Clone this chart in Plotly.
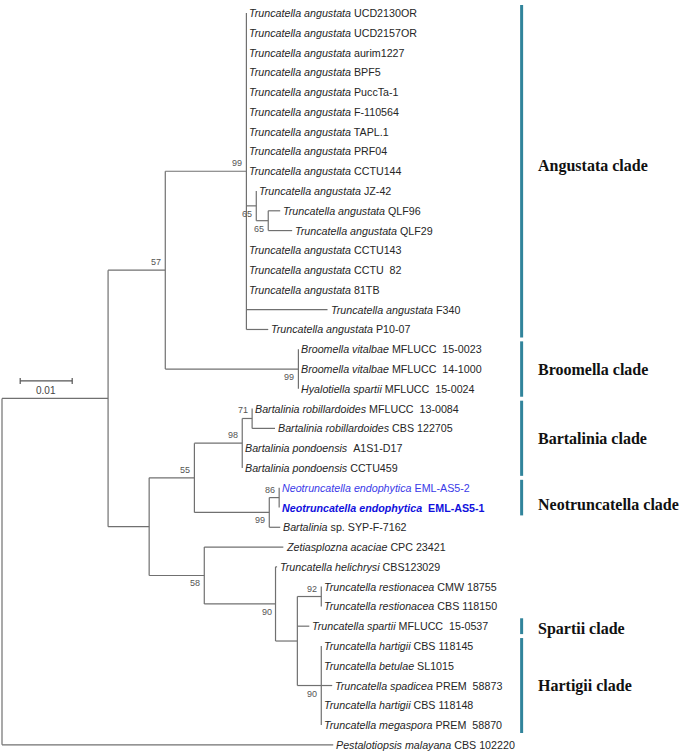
import plotly.graph_objects as go

NB = "\u00a0"

# internal nodes of the tree: name, parent, branch length, bootstrap support
node_names = ["root", "n1", "n57", "n99a", "n65a", "n65b", "n99b", "n2", "n55", "n98",
              "n71", "n99c", "n86", "n58", "n90a", "n3", "n92", "n90b"]
node_parents = [None, "root", "n1", "n57", "n99a", "n65a", "n57", "n1", "n2", "n55",
                "n98", "n55", "n99c", "n2", "n58", "n90a", "n3", "n3"]
node_lengths = [0.0, 0.0204, 0.0110, 0.0156, 0.0019, 0.0023, 0.0256, 0.0079, 0.0087, 0.0092,
                0.0019, 0.0144, 0.0019, 0.0106, 0.0137, 0.0042, 0.0046, 0.0046]
node_support = ["", "", "57", "99", "65", "65", "99", "", "55", "98",
                "71", "99", "86", "58", "90", "", "92", "90"]

# leaves, top to bottom
leaf_species = ["Truncatella angustata"] * 17 + [
    "Broomella vitalbae", "Broomella vitalbae", "Hyalotiella spartii",
    "Bartalinia robillardoides", "Bartalinia robillardoides",
    "Bartalinia pondoensis", "Bartalinia pondoensis",
    "Neotruncatella endophytica", "Neotruncatella" + NB + "endophytica",
    "Bartalinia", "Zetiasplozna acaciae", "Truncatella helichrysi",
    "Truncatella restionacea", "Truncatella restionacea", "Truncatella spartii",
    "Truncatella hartigii", "Truncatella betulae", "Truncatella spadicea",
    "Truncatella hartigii", "Truncatella megaspora", "Pestalotiopsis malayana"]
leaf_strains = ["UCD2130OR", "UCD2157OR", "aurim1227", "BPF5", "PuccTa-1", "F-110564",
                "TAPL.1", "PRF04", "CCTU144", "JZ-42", "QLF96", "QLF29", "CCTU143",
                "CCTU" + NB + NB + "82", "81TB", "F340", "P10-07",
                "MFLUCC" + NB + NB + "15-0023", "MFLUCC" + NB + NB + "14-1000", "MFLUCC" + NB + NB + "15-0024",
                "MFLUCC" + NB + NB + "13-0084", "CBS 122705", NB + "A1S1-D17", "CCTU459",
                "EML-AS5-2", NB + "EML-AS5-1", "sp. SYP-F-7162", "CPC 23421", "CBS123029",
                "CMW 18755", "CBS 118150", "MFLUCC" + NB + NB + "15-0537", "CBS 118145", "SL1015",
                "PREM" + NB + NB + "58873", "CBS 118148", "PREM" + NB + NB + "58870", "CBS 102220"]
leaf_parents = ["n99a"] * 9 + ["n65a", "n65b", "n65b"] + ["n99a"] * 5 + ["n99b"] * 3 + \
               ["n71", "n71", "n98", "n98", "n86", "n86", "n99c", "n58", "n90a",
                "n92", "n92", "n3", "n90b", "n90b", "n90b", "n90b", "n90b", "root"]
leaf_lengths = [0] * 9 + [0, 0.0023, 0.0046, 0, 0, 0, 0.0156, 0.0042, 0, 0, 0,
                          0, 0.0044, 0, 0, 0, 0, 0.0021, 0.0152, 0.0003,
                          0, 0, 0.0023, 0, 0, 0.0021, 0, 0, 0.0637]

# clades: label, first leaf, last leaf
clade_names = ["Angustata clade", "Broomella clade", "Bartalinia clade",
               "Neotruncatella clade", "Spartii clade", "Hartigii clade"]
clade_first = [0, 17, 20, 24, 31, 32]
clade_last = [16, 19, 23, 25, 31, 36]

scale_length = 0.01

# ---- build coordinates ----
parent = dict(zip(node_names, node_parents))
length = dict(zip(node_names, node_lengths))
for i in range(len(leaf_species)):
    parent["L%d" % i] = leaf_parents[i]
    length["L%d" % i] = leaf_lengths[i]

xs = {}
def getx(n):
    if n not in xs:
        p = parent[n]
        xs[n] = 0.0 if p is None else getx(p) + length[n]
    return xs[n]

children = {n: [] for n in node_names}
for n, p in parent.items():
    if p is not None:
        children[p].append(n)

ys = {"L%d" % i: float(i) for i in range(len(leaf_species))}
def gety(n):
    if n not in ys:
        cy = [gety(c) for c in children[n]]
        ys[n] = (min(cy) + max(cy)) / 2
    return ys[n]

lx, ly = [], []
for n in parent:
    x, y = getx(n), gety(n)
    if parent[n] is not None:
        lx += [getx(parent[n]), x, None]
        ly += [y, y, None]
    if n in children:
        cy = [gety(c) for c in children[n]]
        lx += [x, x, None]
        ly += [min(cy), max(cy), None]

fig = go.Figure()
fig.add_trace(go.Scatter(x=lx, y=ly, mode="lines", line=dict(color="#707070", width=1.2),
                         hoverinfo="skip", showlegend=False))

ann = []
for i in range(len(leaf_species)):
    n = "L%d" % i
    sp, st = leaf_species[i], leaf_strains[i]
    color = "#262626"
    if i == 24:
        txt = "<i>%s</i> %s" % (sp, st)
        color = "#3a3ae8"
    elif i == 25:
        txt = "<b><i>%s</i> %s</b>" % (sp, st)
        color = "#1010dd"
    else:
        txt = "<i>%s</i> %s" % (sp, st)
    ann.append(dict(x=getx(n), y=gety(n), text=txt, xanchor="left", yanchor="middle",
                    xshift=1, showarrow=False,
                    font=dict(family="Arial, Liberation Sans", size=10.7, color=color)))

# bootstrap values: placed above or below-left of node
below = {"n65a", "n65b", "n99b", "n99c", "n58", "n90a", "n90b"}
for n, s in zip(node_names, node_support):
    if not s:
        continue
    ann.append(dict(x=getx(n), y=gety(n), text=s, showarrow=False,
                    xanchor="right", yanchor="top" if n in below else "bottom",
                    xshift=-2, yshift=-1 if n in below else 1,
                    font=dict(family="Arial, Liberation Sans", size=9, color="#555555")))

label_nudge = {"Angustata clade": 5, "Neotruncatella clade": -7, "Spartii clade": -3}
shapes = []
for name, a, b in zip(clade_names, clade_first, clade_last):
    shapes.append(dict(type="line", xref="paper", yref="y", x0=0.7615, x1=0.7615,
                       y0=a - 0.4, y1=b + 0.4, line=dict(color="#31849B", width=3)))
    ann.append(dict(xref="paper", yref="y", x=0.783, y=(a + b) / 2, text="<b>%s</b>" % name,
                    xanchor="left", yanchor="middle", showarrow=False,
                    yshift=label_nudge.get(name, 0),
                    font=dict(family="Liberation Serif, Times New Roman", size=16, color="#111111")))

# scale bar
sx0, sy = 0.0035, 18.6
shapes.append(dict(type="line", x0=sx0, x1=sx0 + scale_length, y0=sy, y1=sy,
                   line=dict(color="#555555", width=1.2)))
for xx in (sx0, sx0 + scale_length):
    shapes.append(dict(type="line", x0=xx, x1=xx, y0=sy - 0.15, y1=sy + 0.15,
                       line=dict(color="#555555", width=1.2)))
ann.append(dict(x=sx0 + scale_length / 2, y=sy, text=str(scale_length), showarrow=False,
                yanchor="top", yshift=-2,
                font=dict(family="Arial, Liberation Sans", size=10, color="#444444")))

px_per_unit = 5200.0
fig.update_layout(
    width=685, height=753, margin=dict(l=0, r=0, t=0, b=0),
    plot_bgcolor="white", paper_bgcolor="white",
    xaxis=dict(range=[-2 / px_per_unit, 683 / px_per_unit], visible=False),
    yaxis=dict(range=[(753 - 13) / 19.78, -13 / 19.78], visible=False),
    shapes=shapes, annotations=ann,
)

fig.write_html("out.html", config={"displayModeBar": False},
               post_script="document.body.style.margin='0px';")
